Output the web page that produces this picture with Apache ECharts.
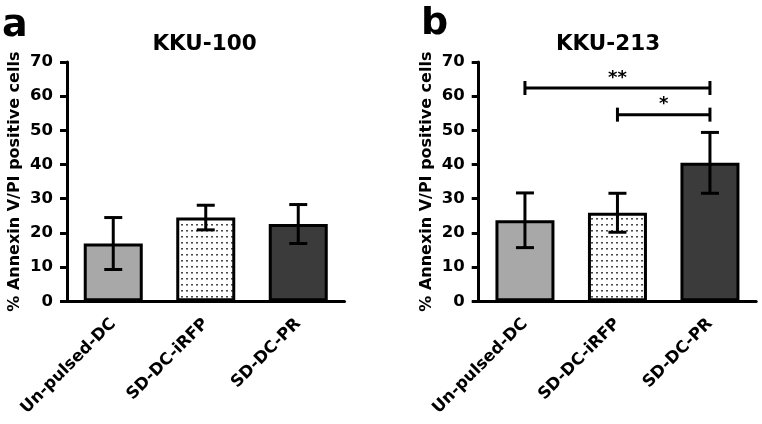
<!DOCTYPE html>
<html><head><meta charset="utf-8">
<script src="https://cdn.jsdelivr.net/npm/echarts@6/dist/echarts.min.js"></script>
<style>html,body{margin:0;padding:0;background:#fff}#c{width:762px;height:424px}</style>
</head><body><div id="c"></div>
<script>
const categories = ['Un-pulsed-DC', 'SD-DC-iRFP', 'SD-DC-PR'];
const kku100Mean = [16.9, 24.5, 22.6];
const kku100Sd = [7.6, 3.6, 5.7];
const kku213Mean = [23.7, 25.9, 40.5];
const kku213Sd = [8.0, 5.7, 8.9];
const brackets213 = [[0, 2, 62.4, '**'], [1, 2, 54.6, '*']];
const panelTitles = ['KKU-100', 'KKU-213'];
const panelLetters = ['a', 'b'];
const yName = '% Annexin V/PI positive cells';

const FONT = 'DejaVu Sans';
const barColors = ['#a8a8a8', null, '#3b3b3b'];

const pc = document.createElement('canvas');
pc.width = 5; pc.height = 6;
const pctx = pc.getContext('2d');
pctx.fillStyle = '#ffffff'; pctx.fillRect(0, 0, 5, 6);
pctx.fillStyle = '#4a4a4a'; pctx.fillRect(1, 2, 2, 1);
pctx.fillStyle = '#9a9a9a'; pctx.fillRect(1, 3, 2, 1);
const dotPattern = { image: pc, repeat: 'repeat' };

function barData(means) {
  return means.map((v, i) => ({
    value: v,
    itemStyle: { color: barColors[i] || dotPattern, borderColor: '#000', borderWidth: 3 }
  }));
}
function errData(means, sds) {
  return means.map((m, i) => [i, m - sds[i], m + sds[i]]);
}
function errRender(params, api) {
  const x = api.value(0);
  const lo = api.coord([x, api.value(1)]);
  const hi = api.coord([x, api.value(2)]);
  const hw = 9;
  const st = { stroke: '#000', lineWidth: 3 };
  return { type: 'group', children: [
    { type: 'line', shape: { x1: lo[0], y1: lo[1], x2: hi[0], y2: hi[1] }, style: st },
    { type: 'line', shape: { x1: hi[0] - hw, y1: hi[1], x2: hi[0] + hw, y2: hi[1] }, style: st },
    { type: 'line', shape: { x1: lo[0] - hw, y1: lo[1], x2: lo[0] + hw, y2: lo[1] }, style: st }
  ]};
}
function bracketRender(params, api) {
  const b = brackets213[params.dataIndex];
  const p1 = api.coord([api.value(0), api.value(2)]);
  const p2 = api.coord([api.value(1), api.value(2)]);
  const st = { stroke: '#000', lineWidth: 3 };
  return { type: 'group', children: [
    { type: 'line', shape: { x1: p1[0], y1: p1[1], x2: p2[0], y2: p2[1] }, style: st },
    { type: 'line', shape: { x1: p1[0], y1: p1[1] - 7, x2: p1[0], y2: p1[1] + 7 }, style: st },
    { type: 'line', shape: { x1: p2[0], y1: p2[1] - 7, x2: p2[0], y2: p2[1] + 7 }, style: st },
    { type: 'text', style: { text: b[3], x: (p1[0] + p2[0]) / 2, y: p1[1] - 1, align: 'center', verticalAlign: 'bottom',
      font: 'bold 18px "' + FONT + '"', fill: '#000' } }
  ]};
}

const grids = [
  { left: 67, top: 62, width: 277.5, height: 239.3 },
  { left: 478.7, top: 62, width: 277.5, height: 239.3 }
];
const xAxes = grids.map((g, i) => ({
  type: 'category', gridIndex: i, data: categories,
  axisLine: { lineStyle: { color: '#000', width: 3 } },
  axisTick: { alignWithLabel: true, length: 8, lineStyle: { color: '#000', width: 3 } },
  axisLabel: { interval: 0, rotate: 45, margin: 20, color: '#000', fontFamily: FONT, fontWeight: 'bold', fontSize: 16.5 }
}));
const yAxes = grids.map((g, i) => ({
  type: 'value', gridIndex: i, min: 0, max: 70, interval: 10,
  name: yName, nameLocation: 'middle', nameRotate: 90, nameGap: 44,
  nameTextStyle: { color: '#000', fontFamily: FONT, fontWeight: 'bold', fontSize: 16 },
  axisLine: { show: true, lineStyle: { color: '#000', width: 3 } },
  axisTick: { show: true, length: 7, lineStyle: { color: '#000', width: 3 } },
  axisLabel: { margin: 14, color: '#000', fontFamily: FONT, fontWeight: 'bold', fontSize: 16.5 },
  splitLine: { show: false }
}));

const option = {
  animation: false,
  backgroundColor: '#fff',
  title: [
    { text: panelTitles[0], left: 199.5, top: 28, textAlign: 'center', textStyle: { fontFamily: FONT, fontWeight: 'bold', fontSize: 21.5, color: '#000' } },
    { text: panelTitles[1], left: 603, top: 28, textAlign: 'center', textStyle: { fontFamily: FONT, fontWeight: 'bold', fontSize: 21.5, color: '#000' } },
    { text: panelLetters[0], left: -3, top: 2, textStyle: { fontFamily: FONT, fontWeight: 'bold', fontSize: 38, color: '#000' } },
    { text: panelLetters[1], left: 416, top: 0, textStyle: { fontFamily: FONT, fontWeight: 'bold', fontSize: 38, color: '#000' } }
  ],
  grid: grids,
  xAxis: xAxes,
  yAxis: yAxes,
  series: [
    { type: 'bar', xAxisIndex: 0, yAxisIndex: 0, barWidth: 59, data: barData(kku100Mean) },
    { type: 'bar', xAxisIndex: 1, yAxisIndex: 1, barWidth: 59, data: barData(kku213Mean) },
    { type: 'custom', xAxisIndex: 0, yAxisIndex: 0, renderItem: errRender, data: errData(kku100Mean, kku100Sd), z: 5, clip: false },
    { type: 'custom', xAxisIndex: 1, yAxisIndex: 1, renderItem: errRender, data: errData(kku213Mean, kku213Sd), z: 5, clip: false },
    { type: 'custom', xAxisIndex: 1, yAxisIndex: 1, renderItem: bracketRender, data: brackets213.map(b => [b[0], b[1], b[2]]), z: 5, clip: false }
  ]
};
const chart = echarts.init(document.getElementById('c'), null, { renderer: 'canvas' });
chart.setOption(option);
</script></body></html>
